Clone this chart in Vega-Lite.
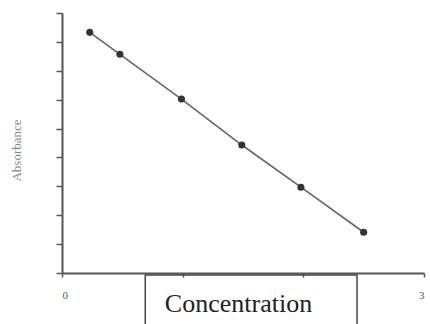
{
  "$schema": "https://vega.github.io/schema/vega-lite/v6.json",
  "width": 362,
  "height": 260,
  "autosize": "none",
  "padding": {"left": 62, "top": 13, "right": 6, "bottom": 51},
  "background": "white",
  "config": {"view": {"stroke": null}},
  "layer": [
    {
      "data": {"values": [{"x1": 0.69, "x2": 2.445, "y1": -0.07, "y2": -2.6}]},
      "mark": {"type": "rect", "fill": null, "stroke": "#444", "strokeWidth": 1.5, "clip": false},
      "encoding": {
        "x": {"field": "x1", "type": "quantitative"},
        "x2": {"field": "x2"},
        "y": {"field": "y1", "type": "quantitative"},
        "y2": {"field": "y2"}
      }
    },
    {
      "data": {"values": [
        {"Concentration": 0.23, "Absorbance": 8.33},
        {"Concentration": 0.48, "Absorbance": 7.57},
        {"Concentration": 0.99, "Absorbance": 6.02},
        {"Concentration": 1.49, "Absorbance": 4.43},
        {"Concentration": 1.98, "Absorbance": 2.97},
        {"Concentration": 2.5, "Absorbance": 1.41}
      ]},
      "layer": [
        {"mark": {"type": "line", "color": "#666", "strokeWidth": 1.6}, "encoding": {}},
        {"mark": {"type": "point", "filled": true, "color": "#333", "size": 50, "opacity": 1}, "encoding": {}}
      ],
      "encoding": {
        "x": {"field": "Concentration", "type": "quantitative"},
        "y": {"field": "Absorbance", "type": "quantitative"}
      }
    }
  ],
  "encoding": {
    "x": {
      "type": "quantitative",
      "scale": {"domain": [0, 3], "nice": false, "zero": false},
      "axis": {
        "title": "Concentration",
        "values": [0, 1, 2, 3],
        "labelExpr": "datum.value == 0 || datum.value == 3 ? datum.label : ''",
        "grid": false,
        "domainColor": "#555",
        "domainWidth": 2,
        "tickColor": "#555",
        "tickWidth": 1.5,
        "tickSize": 4,
        "labelFont": "Liberation Serif",
        "labelFontSize": 11,
        "labelColor": "#555",
        "labelPadding": 12,
        "titleFont": "Liberation Serif",
        "titleFontSize": 26,
        "titleFontWeight": "normal",
        "titleColor": "#222",
        "titleX": 176,
        "titleY": 38,
        "titleBaseline": "alphabetic",
        "titleAlign": "center"
      }
    },
    "y": {
      "type": "quantitative",
      "scale": {"domain": [0, 9], "nice": false},
      "axis": {
        "title": "Absorbance",
        "values": [0, 1, 2, 3, 4, 5, 6, 7, 8, 9],
        "labels": false,
        "grid": false,
        "domainColor": "#555",
        "domainWidth": 2,
        "tickColor": "#555",
        "tickWidth": 1.5,
        "tickSize": 6,
        "titleFont": "Liberation Serif",
        "titleFontSize": 13,
        "titleFontWeight": "normal",
        "titleColor": "#888",
        "titleAngle": -90,
        "titleX": -46,
        "titleY": 137,
        "titleAlign": "center",
        "titleBaseline": "middle"
      }
    }
  }
}
